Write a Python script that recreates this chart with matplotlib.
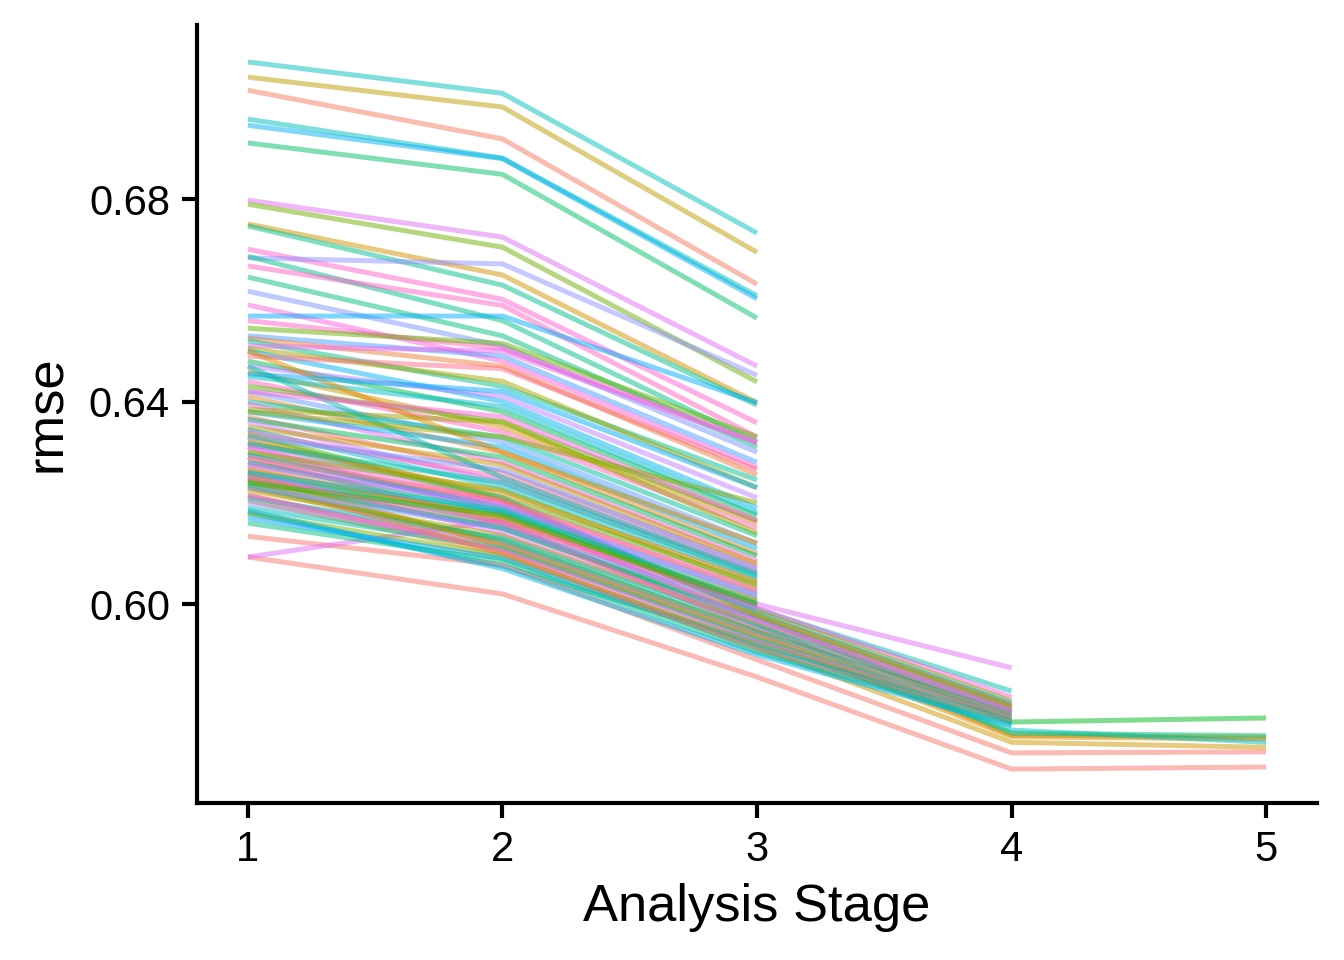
import numpy as np
import matplotlib.pyplot as plt

plt.rcParams['font.family'] = ['Liberation Sans', 'DejaVu Sans']

# rmse per analysis stage; lines 0-7 reach stage 5, lines 0-30 reach stage 4,
# all lines have stages 1-3
stages = [1, 2, 3, 4, 5]

rmse_s1 = [
    # reach stage 5
    0.6245, 0.6230, 0.6215, 0.6180, 0.6260, 0.6205, 0.6134, 0.6093,
    # reach stage 4
    0.6093, 0.6250, 0.6280, 0.6300, 0.6320, 0.6270, 0.6240, 0.6260,
    0.6225, 0.6210, 0.6290, 0.6235, 0.6200, 0.6255, 0.6190, 0.6215,
    0.6180, 0.6170, 0.6245, 0.6160, 0.6310, 0.6330, 0.6185,
    # stop at stage 3
    0.7071, 0.7041, 0.7015, 0.6958, 0.6946, 0.6911, 0.6798, 0.6790,
    0.6751, 0.6747, 0.6701, 0.6684, 0.6687, 0.6668, 0.6646, 0.6618,
    0.6591, 0.6569,
    0.6560, 0.6545, 0.6530, 0.6525, 0.6520, 0.6510, 0.6505, 0.6500,
    0.6490, 0.6480, 0.6470, 0.6460, 0.6450, 0.6440, 0.6430, 0.6420,
    0.6410, 0.6400, 0.6395, 0.6385, 0.6380, 0.6370, 0.6365, 0.6360,
    0.6350, 0.6345, 0.6340, 0.6335, 0.6330, 0.6320, 0.6315, 0.6310,
    0.6300, 0.6295, 0.6290, 0.6280, 0.6275, 0.6265, 0.6260, 0.6250,
    0.6240, 0.6230, 0.6500, 0.6470, 0.6420, 0.6380, 0.6455,
]

rmse_s2 = [
    0.6150, 0.6120, 0.6110, 0.6075, 0.6160, 0.6100, 0.6077, 0.6020,
    0.6166, 0.6180, 0.6200, 0.6190, 0.6210, 0.6170, 0.6150, 0.6140,
    0.6135, 0.6130, 0.6160, 0.6125, 0.6120, 0.6115, 0.6110, 0.6105,
    0.6095, 0.6090, 0.6100, 0.6085, 0.6180, 0.6205, 0.6070,
    0.7009, 0.6982, 0.6919, 0.6881, 0.6880, 0.6849, 0.6725, 0.6705,
    0.6650, 0.6630, 0.6602, 0.6672, 0.6560, 0.6590, 0.6530, 0.6510,
    0.6480, 0.6569,
    0.6505, 0.6515, 0.6490, 0.6470, 0.6430, 0.6500, 0.6440, 0.6400,
    0.6465, 0.6380, 0.6410, 0.6350, 0.6390, 0.6340, 0.6360, 0.6320,
    0.6300, 0.6330, 0.6280, 0.6360, 0.6310, 0.6260, 0.6290, 0.6240,
    0.6275, 0.6230, 0.6250, 0.6210, 0.6265, 0.6220, 0.6240, 0.6200,
    0.6225, 0.6190, 0.6205, 0.6180, 0.6195, 0.6170, 0.6185, 0.6160,
    0.6175, 0.6150, 0.6300, 0.6250, 0.6370, 0.6330, 0.6420,
]

rmse_s3 = [
    0.5975, 0.5945, 0.5935, 0.5925, 0.5960, 0.5915, 0.5890, 0.5856,
    0.6000, 0.5990, 0.5992, 0.5985, 0.5980, 0.5975, 0.5970, 0.5965,
    0.5960, 0.5955, 0.5950, 0.5945, 0.5940, 0.5935, 0.5930, 0.5925,
    0.5920, 0.5915, 0.5910, 0.5905, 0.5968, 0.5978, 0.5900,
    0.6733, 0.6695, 0.6632, 0.6609, 0.6603, 0.6565, 0.6470, 0.6439,
    0.6398, 0.6393, 0.6358, 0.6452, 0.6320, 0.6330, 0.6310, 0.6300,
    0.6270, 0.6398,
    0.6320, 0.6330, 0.6280, 0.6255, 0.6245, 0.6318, 0.6230, 0.6190,
    0.6265, 0.6175, 0.6210, 0.6160, 0.6180, 0.6150, 0.6165, 0.6120,
    0.6100, 0.6135, 0.6085, 0.6140, 0.6110, 0.6075, 0.6095, 0.6060,
    0.6080, 0.6050, 0.6065, 0.6040, 0.6070, 0.6045, 0.6055, 0.6030,
    0.6035, 0.6020, 0.6025, 0.6010, 0.6015, 0.6005, 0.6000, 0.5995,
    0.6000, 0.5990, 0.6120, 0.6060, 0.6165, 0.6200, 0.6230,
]

rmse_s4 = [
    0.5767, 0.5741, 0.5738, 0.5751, 0.5745, 0.5727, 0.5706, 0.5674,
    0.5874, 0.5828, 0.5816, 0.5808, 0.5803, 0.5800, 0.5797, 0.5794,
    0.5791, 0.5788, 0.5786, 0.5783, 0.5781, 0.5779, 0.5777, 0.5775,
    0.5772, 0.5769, 0.5766, 0.5763, 0.5790, 0.5798, 0.5760,
]

rmse_s5 = [0.5775, 0.5737, 0.5733, 0.5727, 0.5740, 0.5717, 0.5708, 0.5678]

n_lines = len(rmse_s1)

# hue overrides (degrees, ggplot hue_pal style) for the clearly visible lines
hue_override = {
    0: 130, 1: 50, 2: 45, 3: 195, 4: 160, 5: 60, 6: 15, 7: 15, 8: 300,
    31: 190, 32: 70, 33: 20, 34: 190, 35: 230, 36: 150, 37: 300, 38: 110,
    39: 55, 40: 165, 41: 330, 42: 265, 43: 165, 44: 335, 45: 160, 46: 260,
    47: 320, 48: 235,
}


def hcl_to_rgb(h, c=100.0, l=65.0):
    # polar Luv -> sRGB, same as grDevices::hcl
    hr = np.deg2rad(h)
    u, v = c * np.cos(hr), c * np.sin(hr)
    xn, yn, zn = 95.047, 100.0, 108.883
    un = 4 * xn / (xn + 15 * yn + 3 * zn)
    vn = 9 * yn / (xn + 15 * yn + 3 * zn)
    y = yn * ((l + 16) / 116) ** 3
    up = u / (13 * l) + un
    vp = v / (13 * l) + vn
    x = y * 9 * up / (4 * vp)
    z = y * (12 - 3 * up - 20 * vp) / (4 * vp)
    m = np.array([[3.2404542, -1.5371385, -0.4985314],
                  [-0.9692660, 1.8760108, 0.0415560],
                  [0.0556434, -0.2040259, 1.0572252]])
    rgb = m @ (np.array([x, y, z]) / 100)
    rgb = np.where(rgb <= 0.0031308, 12.92 * rgb,
                   1.055 * np.clip(rgb, 0, None) ** (1 / 2.4) - 0.055)
    return np.clip(rgb, 0, 1)


fig = plt.figure(figsize=(4.48, 3.2), dpi=300)
ax = fig.add_axes([197 / 1344, 1 - 803 / 960, (1317 - 197) / 1344, (803 - 25) / 960])

for i in range(n_lines):
    ys = [rmse_s1[i], rmse_s2[i], rmse_s3[i]]
    if i < len(rmse_s4):
        ys.append(rmse_s4[i])
    if i < len(rmse_s5):
        ys.append(rmse_s5[i])
    hue = hue_override.get(i, 15 + 360 * ((i * 37) % n_lines) / n_lines)
    ax.plot(stages[:len(ys)], ys, color=hcl_to_rgb(hue), alpha=0.5,
            lw=1.2, solid_capstyle='butt')

ax.set_xlim(0.8, 5.2)
ax.set_ylim(0.5607, 0.7144)
ax.set_xticks(stages)
ax.set_yticks([0.60, 0.64, 0.68])
ax.set_yticklabels(['0.60', '0.64', '0.68'])

for side in ['top', 'right']:
    ax.spines[side].set_visible(False)
for side in ['left', 'bottom']:
    ax.spines[side].set_linewidth(1.0)
ax.tick_params(axis='both', length=3.5, width=1.0, labelsize=10,
               colors='black', pad=3)

ax.set_xlabel('Analysis Stage', fontsize=12.6, labelpad=3)
ax.set_ylabel('rmse', fontsize=12.6, labelpad=4)

fig.savefig('out.png', dpi=300)
